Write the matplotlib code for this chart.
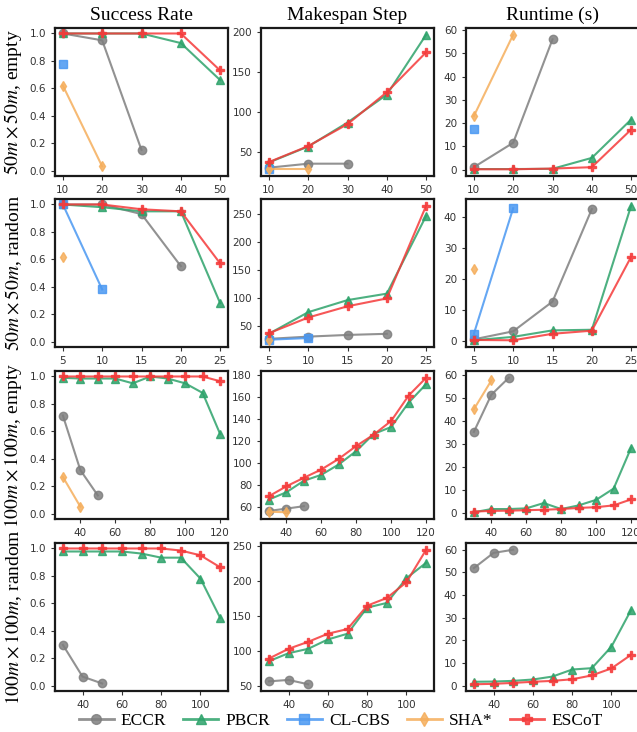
import matplotlib
matplotlib.use("Agg")
import matplotlib.pyplot as plt
from matplotlib.lines import Line2D

plt.rcParams['mathtext.fontset'] = 'stix'

methods = ['ECCR', 'PBCR', 'CL-CBS', 'SHA*', 'ESCoT']
colors = {'ECCR': '#7f7f7f', 'PBCR': '#2ea36b', 'CL-CBS': '#4a98f2',
          'SHA*': '#f5ae5c', 'ESCoT': '#f53a3a'}
markers = {'ECCR': 'o', 'PBCR': '^', 'CL-CBS': 's', 'SHA*': 'd', 'ESCoT': 'P'}

col_titles = ['Success Rate', 'Makespan Step', 'Runtime (s)']
row_labels = [r'$50m \times 50m$, empty', r'$50m \times 50m$, random',
              r'$100m \times 100m$, empty', r'$100m \times 100m$, random']

# x values per row
x_r1 = [10, 20, 30, 40, 50]
x_r2 = [5, 10, 15, 20, 25]
x_r3 = [30, 40, 50, 60, 70, 80, 90, 100, 110, 120]
x_r4 = [30, 40, 50, 60, 70, 80, 90, 100, 110]

# ---- row 1: 50m x 50m, empty ----
r1_success = {
    'ECCR': [1.0, 0.95, 0.15],
    'PBCR': [1.0, 1.0, 1.0, 0.93, 0.66],
    'CL-CBS': [0.78],
    'SHA*': [0.62, 0.03],
    'ESCoT': [1.0, 1.0, 1.0, 1.0, 0.73],
}
r1_makespan = {
    'ECCR': [30.5, 35.5, 35.5],
    'PBCR': [37, 57, 87, 122, 197],
    'CL-CBS': [29],
    'SHA*': [28.5, 28.5],
    'ESCoT': [37.5, 57.5, 85, 125, 175],
}
r1_runtime = {
    'ECCR': [1.0, 11.5, 56],
    'PBCR': [0.2, 0.2, 0.3, 5.0, 21.5],
    'CL-CBS': [17.5],
    'SHA*': [23, 58],
    'ESCoT': [0.1, 0.1, 0.4, 1.0, 17.2],
}

# ---- row 2: 50m x 50m, random ----
r2_success = {
    'ECCR': [1.0, 1.0, 0.93, 0.55],
    'PBCR': [1.0, 0.98, 0.95, 0.95, 0.28],
    'CL-CBS': [1.0, 0.38],
    'SHA*': [0.62],
    'ESCoT': [1.0, 1.0, 0.965, 0.95, 0.57],
}
r2_makespan = {
    'ECCR': [27, 31, 34, 36],
    'PBCR': [36, 74.5, 96, 107.5, 246],
    'CL-CBS': [25.5, 28.5],
    'SHA*': [24.5],
    'ESCoT': [37, 65, 85, 99, 264],
}
r2_runtime = {
    'ECCR': [0.4, 3.0, 12.6, 42.5],
    'PBCR': [0.1, 1.2, 3.3, 3.5, 43.6],
    'CL-CBS': [2.2, 42.8],
    'SHA*': [23.1],
    'ESCoT': [0.2, 0.1, 2.2, 3.2, 27.1],
}

# ---- row 3: 100m x 100m, empty ----
r3_success = {
    'ECCR': [0.715, 0.317, 0.132],
    'PBCR': [0.99, 0.985, 0.985, 0.985, 0.95, 1.0, 0.985, 0.95, 0.88, 0.58],
    'CL-CBS': [],
    'SHA*': [0.267, 0.05],
    'ESCoT': [1.0, 1.0, 1.0, 1.0, 1.0, 1.0, 1.0, 1.0, 1.0, 0.965],
}
r3_makespan = {
    'ECCR': [56.7, 58.8, 61],
    'PBCR': [67, 73.6, 84, 89.4, 98.8, 110.9, 126.4, 132.7, 154.8, 171.5],
    'CL-CBS': [],
    'SHA*': [56, 55.5],
    'ESCoT': [70, 79, 86.7, 94.2, 103.9, 115.5, 125.8, 138.2, 161.2, 177.3],
}
r3_runtime = {
    'ECCR': [35.2, 51.3, 58.7],
    'PBCR': [0.3, 1.7, 1.7, 2.0, 4.3, 1.7, 3.3, 5.7, 10.6, 28.3],
    'CL-CBS': [],
    'SHA*': [45, 57.5],
    'ESCoT': [0.6, 0.9, 1.0, 1.2, 1.4, 1.7, 2.2, 2.5, 3.3, 5.9],
}

# ---- row 4: 100m x 100m, random ----
r4_success = {
    'ECCR': [0.297, 0.065, 0.015],
    'PBCR': [0.978, 0.978, 0.978, 0.978, 0.963, 0.933, 0.933, 0.78, 0.494],
    'CL-CBS': [],
    'SHA*': [],
    'ESCoT': [1.0, 1.0, 1.0, 1.0, 1.0, 1.0, 0.985, 0.95, 0.863],
}
r4_makespan = {
    'ECCR': [56.2, 58.2, 52],
    'PBCR': [85, 96.5, 102.8, 116.2, 124.4, 161.8, 168.5, 204, 226],
    'CL-CBS': [],
    'SHA*': [],
    'ESCoT': [88.8, 102.8, 112.8, 124.4, 131.1, 164.6, 175.6, 198.2, 244.7],
}
r4_runtime = {
    'ECCR': [51.9, 58.6, 60],
    'PBCR': [1.8, 1.9, 2.2, 2.8, 4.1, 7.2, 7.8, 17.3, 33.5],
    'CL-CBS': [],
    'SHA*': [],
    'ESCoT': [0.7, 0.9, 1.3, 1.8, 2.2, 2.9, 4.6, 7.7, 13.7],
}

rows = [
    (x_r1, [r1_success, r1_makespan, r1_runtime]),
    (x_r2, [r2_success, r2_makespan, r2_runtime]),
    (x_r3, [r3_success, r3_makespan, r3_runtime]),
    (x_r4, [r4_success, r4_makespan, r4_runtime]),
]
xticks = [x_r1, x_r2, [40, 60, 80, 100, 120], [40, 60, 80, 100]]
success_ticks = [0.0, 0.2, 0.4, 0.6, 0.8, 1.0]

W, H = 637, 732
fig = plt.figure(figsize=(W / 100, H / 100), dpi=100)

col_left = [55, 261, 466]
row_top = [28, 199, 371, 543]
aw, ah = 173, 148

for i, (xs, panels) in enumerate(rows):
    for j, data in enumerate(panels):
        ax = fig.add_axes([col_left[j] / W, 1 - (row_top[i] + ah) / H, aw / W, ah / H])
        for m in methods:
            ys = data[m]
            if len(ys) == 0:
                continue
            ax.plot(xs[:len(ys)], ys, color=colors[m], marker=markers[m],
                    markersize=6 if m != 'SHA*' else 5, linewidth=1.5, alpha=0.85)
        ax.set_xticks(xticks[i])
        if j == 0:
            ax.set_yticks(success_ticks)
            ax.set_ylim(-0.04, 1.04)
        ax.tick_params(labelsize=7.5, colors='#333333', length=3)
        for s in ax.spines.values():
            s.set_linewidth(1.6)
            s.set_color('#1a1a1a')
        if i == 0:
            ax.set_title(col_titles[j], family='Liberation Serif', fontsize=14, pad=6)
        if j == 0:
            ax.set_ylabel(row_labels[i], family='Liberation Serif', fontsize=14, labelpad=4)

handles = [Line2D([], [], color=colors[m], marker=markers[m], markersize=7,
                  linewidth=2, alpha=0.85, label=m) for m in methods]
fig.legend(handles=handles, loc='center', bbox_to_anchor=(0.535, 1 - 721 / H),
           ncol=5, frameon=False, prop={'family': 'Liberation Serif', 'size': 12.5},
           handlelength=2.0, columnspacing=1.0, handletextpad=0.4)

fig.savefig('out.png', dpi=100)
